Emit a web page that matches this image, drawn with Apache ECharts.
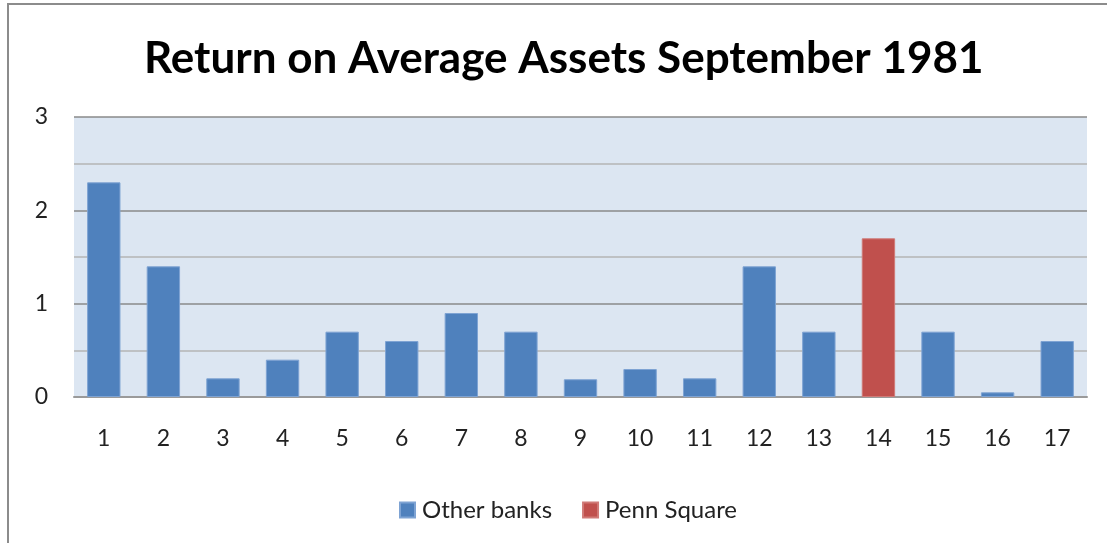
<!DOCTYPE html>
<html>
<head>
<meta charset="utf-8">
<script src="https://cdn.jsdelivr.net/npm/echarts@6/dist/echarts.min.js"></script>
<style>
  html, body { margin: 0; padding: 0; background: #fff; }
  #chart { width: 1107px; height: 543px; }
</style>
</head>
<body>
<div id="chart"></div>
<script>
// bank index on the x axis
const banks = ['1', '2', '3', '4', '5', '6', '7', '8', '9', '10', '11', '12', '13', '14', '15', '16', '17'];
// return on average assets, %
const otherBanks = [2.3, 1.4, 0.2, 0.4, 0.7, 0.6, 0.9, 0.7, 0.19, 0.3, 0.2, 1.4, 0.7, '-', 0.7, 0.05, 0.6];
const pennSquare = ['-', '-', '-', '-', '-', '-', '-', '-', '-', '-', '-', '-', '-', 1.7, '-', '-', '-'];
const yTicks = [0, 1, 2, 3];

const myChart = echarts.init(document.getElementById('chart'));

const font = 'Lato, "Open Sans", sans-serif';

const option = {
  animation: false,
  color: ['#4F81BD', '#C0504D'],
  title: {
    text: 'Return on Average Assets September 1981',
    left: 139,
    top: 32,
    textStyle: {
      fontFamily: font,
      fontSize: 44,
      fontWeight: 'bold',
      color: '#000'
    }
  },
  legend: {
    top: 493,
    left: 394,
    itemWidth: 15,
    itemHeight: 15,
    itemGap: 30,
    icon: 'rect',
    textStyle: { fontFamily: font, fontSize: 24, color: '#222', padding: [0, 0, 0, 2] },
    data: ['Other banks', 'Penn Square']
  },
  graphic: [{
    type: 'rect',
    shape: { x: 8, y: 4, width: 1300, height: 700 },
    style: { fill: 'none', stroke: '#8c8c8c', lineWidth: 2 },
    silent: true
  }],
  grid: {
    left: 74,
    right: 20,
    top: 117,
    bottom: 146,
    show: true,
    backgroundColor: '#DCE6F2',
    borderWidth: 0
  },
  xAxis: {
    type: 'category',
    data: banks,
    axisTick: { show: false },
    axisLine: { lineStyle: { color: '#9a9a9a', width: 2 } },
    axisLabel: { fontFamily: font, fontSize: 23, color: '#222', margin: 30 }
  },
  yAxis: {
    type: 'value',
    min: 0,
    max: 3,
    interval: 0.5,
    axisLine: { show: false },
    axisTick: { show: false },
    axisLabel: {
      fontFamily: font,
      fontSize: 23,
      color: '#222',
      margin: 26,
      formatter: v => (yTicks.includes(v) ? String(v) : '')
    },
    splitLine: {
      lineStyle: { color: ['#8a8a8a', '#b4b4b4'], width: 1.5 }
    }
  },
  series: [
    {
      name: 'Other banks',
      type: 'bar',
      data: otherBanks,
      barWidth: '56%',
      barGap: '-100%',
      itemStyle: { borderColor: '#7ea3d3', borderWidth: 1 }
    },
    {
      name: 'Penn Square',
      type: 'bar',
      data: pennSquare,
      barWidth: '56%',
      itemStyle: { borderColor: '#d07a77', borderWidth: 1 }
    }
  ]
};

myChart.setOption(option);
</script>
</body>
</html>
